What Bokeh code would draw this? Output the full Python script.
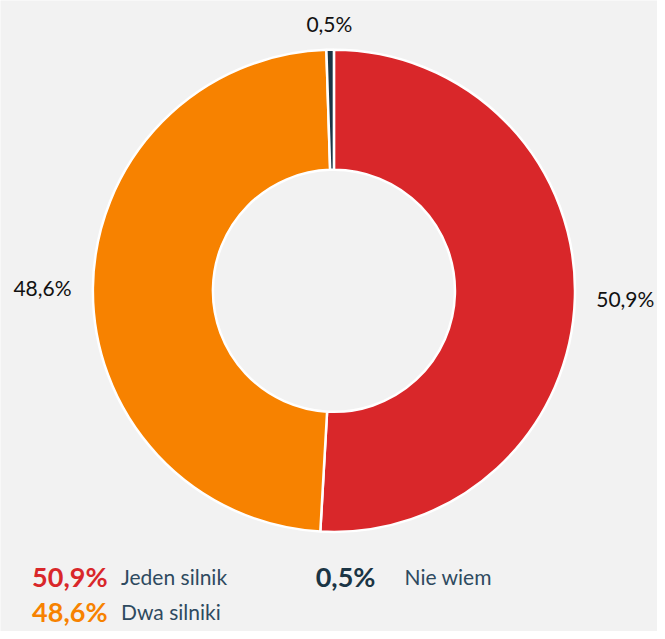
import math
from bokeh.plotting import figure
from bokeh.models import Range1d, ColumnDataSource
from bokeh.core.properties import value
from bokeh.embed import file_html
from bokeh.resources import INLINE

# ---- data ----
categories = ["Jeden silnik", "Dwa silniki", "Nie wiem"]
shares = [50.9, 48.6, 0.5]
labels = ["50,9%", "48,6%", "0,5%"]
colors = ["#d9272a", "#f78200", "#1b3545"]
value_colors = ["#d9272a", "#f78200", "#1b3545"]

BG = "#f2f2f2"
W, H = 657, 631
# layout space (reference units), y measured upward as negative page y
SPACE_W, SPACE_H = 665, 639
CX, CY = 337.5, -294
R_OUT, R_IN = 244, 122.5

p = figure(width=W, height=H, output_backend="svg", toolbar_location=None,
           x_range=Range1d(0, SPACE_W), y_range=Range1d(-SPACE_H, 0),
           min_border=0, background_fill_color=BG, border_fill_color=BG,
           outline_line_color=None)
p.axis.visible = False
p.grid.visible = False

total = sum(shares)
starts, ends, mids = [], [], []
cum = 0.0
for s in shares:
    a0 = math.pi / 2 - 2 * math.pi * (cum + s) / total
    a1 = math.pi / 2 - 2 * math.pi * cum / total
    starts.append(a0)
    ends.append(a1)
    mids.append((a0 + a1) / 2)
    cum += s

src = ColumnDataSource(dict(start=starts, end=ends, color=colors))
p.annular_wedge(x=CX, y=CY, inner_radius=R_IN, outer_radius=R_OUT,
                start_angle="start", end_angle="end", fill_color="color",
                line_color="white", line_width=2.5, source=src)

# data labels
lx = [CX + 295 * math.cos(m) for m in mids]
ly = [CY + 271 * math.sin(m) for m in mids]
p.text(x=lx, y=ly, text=labels, text_align="center", text_baseline="middle",
       text_font=value("Lato"), text_font_size="21px", text_color="#111111")

# legend (column-major, 2 rows)
col_x = [32, 319]
text_dx = 90
row_y = [-583, -619]
vx, vy, tx = [], [], []
for i in range(len(categories)):
    c, r = divmod(i, 2)
    vx.append(col_x[c])
    vy.append(row_y[r])
    tx.append(col_x[c] + text_dx)
p.text(x=vx, y=vy, text=labels, text_align="left", text_baseline="middle",
       text_font=value("Lato"), text_font_size="27px", text_font_style="bold",
       text_color=value_colors)
p.text(x=tx, y=vy, text=categories, text_align="left", text_baseline="middle",
       text_font=value("Lato"), text_font_size="21px", text_color="#2e4a60")

html = file_html(p, INLINE)
html = html.replace("<body>", '<body style="background:%s">' % BG, 1)
open("out.html", "w").write(html)
